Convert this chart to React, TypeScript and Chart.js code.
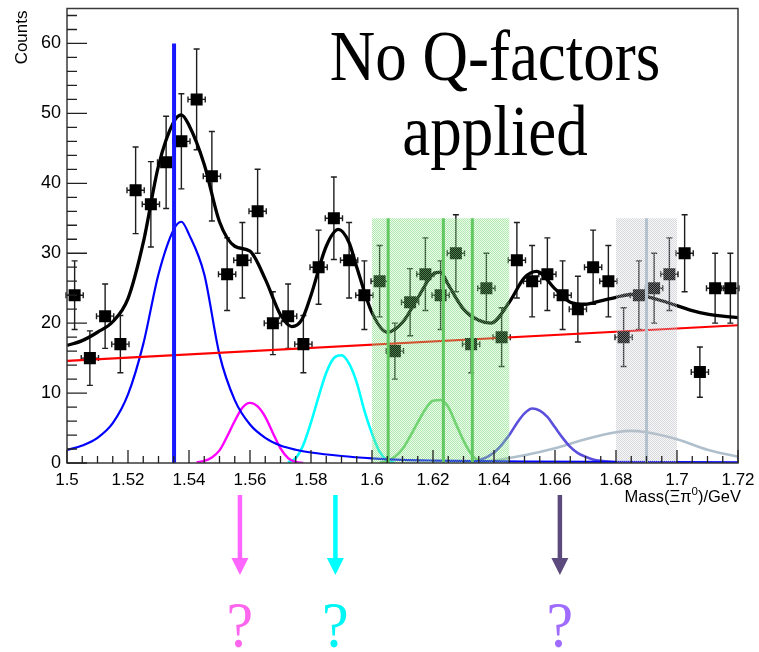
import React, { useEffect, useRef } from "react";
import { Chart, registerables } from "chart.js";

Chart.register(...registerables);

// ---------- data ----------
const binCenters = [
  1.5025, 1.5075, 1.5125, 1.5175, 1.5225, 1.5275, 1.5325, 1.5375, 1.5425, 1.5475,
  1.5525, 1.5575, 1.5625, 1.5675, 1.5725, 1.5775, 1.5825, 1.5875, 1.5925, 1.5975,
  1.6025, 1.6075, 1.6125, 1.6175, 1.6225, 1.6275, 1.6325, 1.6375, 1.6425, 1.6475,
  1.6525, 1.6575, 1.6625, 1.6675, 1.6725, 1.6775, 1.6825, 1.6875, 1.6925, 1.6975,
  1.7025, 1.7075, 1.7125, 1.7175,
];
const counts = [
  24, 15, 21, 17, 39, 37, 43, 46, 52, 41,
  27, 29, 36, 20, 21, 17, 28, 35, 29, 24,
  26, 16, 23, 27, 24, 30, 17, 25, 18, 29,
  26, 27, 24, 22, 28, 26, 18, 24, 25, 27,
  30, 13, 25, 25,
];
const countErrors = [
  4.9, 3.9, 4.6, 4.1, 6.2, 6.1, 6.6, 6.8, 7.2, 6.4,
  5.2, 5.4, 6.0, 4.5, 4.6, 4.1, 5.3, 5.9, 5.4, 4.9,
  5.1, 4.0, 4.8, 5.2, 4.9, 5.5, 4.1, 5.0, 4.2, 5.4,
  5.1, 5.2, 4.9, 4.7, 5.3, 5.1, 4.2, 4.9, 5.0, 5.2,
  5.5, 3.6, 5.0, 5.0,
];
const binHalfWidth = 0.0025;

const totalFitMass = [
  1.5, 1.505, 1.51, 1.515, 1.52, 1.525, 1.53, 1.535, 1.5375, 1.54, 1.545, 1.55, 1.555,
  1.56, 1.565, 1.57, 1.5737, 1.577, 1.58, 1.585, 1.589, 1.5925, 1.595, 1.6, 1.605, 1.61,
  1.615, 1.62, 1.6225, 1.625, 1.63, 1.635, 1.639, 1.645, 1.65, 1.654, 1.66, 1.665, 1.67,
  1.675, 1.68, 1.685, 1.69, 1.695, 1.7, 1.705, 1.71, 1.715, 1.72,
];
const totalFitValue = [
  16.8, 17.5, 18.7, 20.2, 23.5, 31.5, 42.5, 48.8, 49.8, 48.3, 42.7, 34.5, 31.0,
  30.3, 26.3, 21.2, 19.5, 20.5, 24.0, 31.0, 33.4, 31.5, 28.0, 21.5, 18.7, 20.1,
  23.6, 27.0, 27.3, 25.5, 22.0, 20.4, 20.0, 23.0, 26.5, 27.4, 24.9, 23.0, 22.7,
  23.2, 23.7, 24.1, 23.8, 23.2, 22.5, 21.8, 21.3, 21.0, 20.8,
];

const backgroundMass = [1.5, 1.72];
const backgroundValue = [14.6, 19.7];

const peak1530Mass = [
  1.5, 1.505, 1.51, 1.515, 1.52, 1.525, 1.53, 1.535, 1.5375, 1.54, 1.545, 1.55, 1.555,
  1.56, 1.565, 1.57, 1.575, 1.58, 1.59, 1.6, 1.61, 1.62, 1.65, 1.72,
];
const peak1530Value = [
  1.85, 2.5, 3.6, 5.7, 9.8, 17.0, 27.0, 33.4, 34.5, 32.7, 27.0, 15.5, 9.0,
  5.5, 3.6, 2.5, 1.9, 1.5, 1.0, 0.67, 0.45, 0.35, 0.2, 0.1,
];

const peak1560Mass = [
  1.5425, 1.545, 1.5475, 1.55, 1.5525, 1.555, 1.5575, 1.56, 1.5625, 1.565, 1.5675, 1.57,
  1.5725, 1.575, 1.5775,
];
const peak1560Value = [0.1, 0.3, 0.8, 1.8, 3.8, 6.0, 7.9, 8.6, 8.1, 6.6, 4.3, 2.1, 0.7, 0.15, 0];

const peak1590Mass = [
  1.5725, 1.575, 1.5775, 1.58, 1.5825, 1.585, 1.5875, 1.59, 1.5925, 1.595, 1.5975, 1.6,
  1.6025, 1.605, 1.6075,
];
const peak1590Value = [0.1, 0.7, 2.6, 5.8, 9.5, 12.9, 15.0, 15.4, 14.2, 11.5, 7.5, 4.2, 1.6, 0.4, 0];

const peak1620Mass = [
  1.6025, 1.605, 1.6075, 1.61, 1.6125, 1.615, 1.6175, 1.62, 1.6225, 1.625, 1.6275, 1.63,
  1.6325, 1.635, 1.6375,
];
const peak1620Value = [0, 0.3, 0.9, 2.0, 3.8, 5.8, 7.7, 8.9, 9.0, 8.0, 5.6, 3.2, 1.3, 0.3, 0];

const peak1655Mass = [
  1.6325, 1.635, 1.6375, 1.64, 1.6425, 1.645, 1.6475, 1.65, 1.6525, 1.655, 1.6575, 1.66,
  1.6625, 1.665, 1.6675, 1.67, 1.6725, 1.675, 1.68,
];
const peak1655Value = [0.1, 0.4, 0.8, 1.5, 2.6, 4.0, 5.7, 7.1, 7.8, 7.5, 6.6, 5.1, 3.6, 2.3, 1.4, 0.9, 0.5, 0.3, 0.1];

const peak1690Mass = [1.63, 1.64, 1.65, 1.66, 1.67, 1.68, 1.685, 1.69, 1.7, 1.71, 1.72];
const peak1690Value = [0.1, 0.35, 1.1, 2.1, 3.4, 4.4, 4.6, 4.4, 3.4, 1.9, 0.9];

const greenBand = [1.6, 1.645];
const greenLines = [1.6053, 1.6234, 1.6329];
const greyBand = [1.68, 1.7];
const greyLines = [1.69];
const bandTop = 35;
const blueLineMass = 1.5351;
const blueLineTop = 60;

const arrowMasses = [1.5567, 1.588, 1.6616];
const arrowColors = ["#ff66ff", "#00ffff", "#5b4a7b"];
const questionColors = ["#ff66ee", "#00f5f5", "#a06cff"];

const xMin = 1.5;
const xMax = 1.72;
const xStep = 0.02;
const xMinorStep = 0.005;
const yMin = 0;
const yMax = 65;
const yStep = 10;
const yMinorStep = 2;

const titleLines = ["No Q-factors", "applied"];

const toXY = (xs: number[], ys: number[]) => xs.map((x, i) => ({ x, y: ys[i] }));

const SANS = '"Liberation Sans", Arial, Helvetica, sans-serif';
const SERIF = '"Liberation Serif", "Times New Roman", serif';

function makePattern(ctx: CanvasRenderingContext2D, color: string) {
  const c = document.createElement("canvas");
  c.width = 2;
  c.height = 2;
  const p = c.getContext("2d")!;
  p.fillStyle = color;
  p.fillRect(0, 0, 1, 1);
  p.fillRect(1, 1, 1, 1);
  return ctx.createPattern(c, "repeat");
}

const overlayPlugin = {
  id: "rootStyle",
  beforeDatasetsDraw(chart: any) {
    const { ctx, scales } = chart;
    const xs = scales.x;
    const ys = scales.y;
    ctx.save();
    ctx.strokeStyle = "#1e1e1e";
    ctx.lineWidth = 1.4;
    binCenters.forEach((m, i) => {
      const px = xs.getPixelForValue(m);
      const py = ys.getPixelForValue(counts[i]);
      const pTop = ys.getPixelForValue(counts[i] + countErrors[i]);
      const pBot = ys.getPixelForValue(counts[i] - countErrors[i]);
      const pl = xs.getPixelForValue(m - binHalfWidth);
      const pr = xs.getPixelForValue(m + binHalfWidth);
      ctx.beginPath();
      ctx.moveTo(px, pTop);
      ctx.lineTo(px, pBot);
      ctx.moveTo(px - 3, pTop);
      ctx.lineTo(px + 3, pTop);
      ctx.moveTo(px - 3, pBot);
      ctx.lineTo(px + 3, pBot);
      ctx.moveTo(pl - 1, py);
      ctx.lineTo(pr + 1, py);
      ctx.moveTo(pl - 1, py - 3);
      ctx.lineTo(pl - 1, py + 3);
      ctx.moveTo(pr + 1, py - 3);
      ctx.lineTo(pr + 1, py + 3);
      ctx.stroke();
    });
    ctx.restore();
  },
  afterDatasetsDraw(chart: any) {
    const { ctx, scales, chartArea } = chart;
    const xs = scales.x;
    const ys = scales.y;
    const y0 = ys.getPixelForValue(0);
    ctx.save();

    // shaded bands (stippled, like ROOT fill styles)
    const yTop = ys.getPixelForValue(bandTop);
    const gl = xs.getPixelForValue(greenBand[0]);
    const gr = xs.getPixelForValue(greenBand[1]);
    ctx.fillStyle = "rgba(150,228,150,0.18)";
    ctx.fillRect(gl, yTop, gr - gl, y0 - yTop);
    ctx.fillStyle = makePattern(ctx, "rgba(120,220,120,0.5)") || "rgba(95,212,95,0.3)";
    ctx.fillRect(gl, yTop, gr - gl, y0 - yTop);
    const sl = xs.getPixelForValue(greyBand[0]);
    const sr = xs.getPixelForValue(greyBand[1]);
    ctx.fillStyle = "rgba(200,204,210,0.15)";
    ctx.fillRect(sl, yTop, sr - sl, y0 - yTop);
    ctx.fillStyle = makePattern(ctx, "rgba(185,190,198,0.5)") || "rgba(180,186,195,0.3)";
    ctx.fillRect(sl, yTop, sr - sl, y0 - yTop);

    ctx.lineWidth = 3;
    ctx.strokeStyle = "#62c862";
    greenLines.forEach((m) => {
      const px = xs.getPixelForValue(m);
      ctx.beginPath();
      ctx.moveTo(px, yTop);
      ctx.lineTo(px, y0);
      ctx.stroke();
    });
    ctx.strokeStyle = "#b4c2ce";
    greyLines.forEach((m) => {
      const px = xs.getPixelForValue(m);
      ctx.beginPath();
      ctx.moveTo(px, yTop);
      ctx.lineTo(px, y0);
      ctx.stroke();
    });

    // blue vertical marker
    const bx = xs.getPixelForValue(blueLineMass);
    ctx.strokeStyle = "#1818ff";
    ctx.lineWidth = 4;
    ctx.beginPath();
    ctx.moveTo(bx, ys.getPixelForValue(blueLineTop));
    ctx.lineTo(bx, y0);
    ctx.stroke();

    // frame
    ctx.strokeStyle = "#3a3a3a";
    ctx.lineWidth = 1.5;
    ctx.strokeRect(chartArea.left, chartArea.top, chartArea.right - chartArea.left, chartArea.bottom - chartArea.top);

    // ticks (inside the frame)
    ctx.strokeStyle = "#222";
    ctx.lineWidth = 1.3;
    ctx.beginPath();
    for (let v = yMin; v <= yMax + 1e-9; v += yMinorStep) {
      const py = ys.getPixelForValue(v);
      const major = Math.abs(v / yStep - Math.round(v / yStep)) < 1e-6;
      ctx.moveTo(chartArea.left, py);
      ctx.lineTo(chartArea.left + (major ? 20 : 10), py);
    }
    for (let k = 0; k <= Math.round((xMax - xMin) / xMinorStep); k++) {
      const v = xMin + k * xMinorStep;
      const px = xs.getPixelForValue(v);
      const major = k % Math.round(xStep / xMinorStep) === 0;
      ctx.moveTo(px, chartArea.bottom);
      ctx.lineTo(px, chartArea.bottom - (major ? 13 : 7));
    }
    ctx.stroke();

    // axis titles
    ctx.fillStyle = "#000";
    ctx.save();
    ctx.translate(27, chartArea.top + 2);
    ctx.rotate(-Math.PI / 2);
    ctx.font = `17px ${SANS}`;
    ctx.textAlign = "right";
    ctx.textBaseline = "alphabetic";
    ctx.fillText("Counts", 0, 0);
    ctx.restore();

    // x title: Mass(Ξπ⁰)/GeV, right-aligned
    const big = `16.5px ${SANS}`;
    const small = `11.5px ${SANS}`;
    const partA = "Mass(\u039E\u03C0";
    const partSup = "0";
    const partB = ")/GeV";
    ctx.font = big;
    const wA = ctx.measureText(partA).width;
    const wB = ctx.measureText(partB).width;
    ctx.font = small;
    const wS = ctx.measureText(partSup).width;
    const xEnd = chartArea.right + 3;
    const baseY = chartArea.bottom + 39;
    let cx = xEnd - (wA + wS + wB);
    ctx.textAlign = "left";
    ctx.font = big;
    ctx.fillText(partA, cx, baseY);
    cx += wA;
    ctx.font = small;
    ctx.fillText(partSup, cx, baseY - 7);
    cx += wS;
    ctx.font = big;
    ctx.fillText(partB, cx, baseY);

    // big annotation (slightly stretched vertically, as in the slide)
    ctx.font = `63px ${SERIF}`;
    ctx.textAlign = "center";
    const stretch = 1.14;
    ctx.save();
    ctx.translate(495, 80);
    ctx.scale(1, stretch);
    ctx.fillText(titleLines[0], 0, 0);
    ctx.restore();
    ctx.save();
    ctx.translate(495, 155);
    ctx.scale(1, stretch);
    ctx.fillText(titleLines[1], 0, 0);
    ctx.restore();

    // arrows and question marks
    arrowMasses.forEach((m, i) => {
      const px = xs.getPixelForValue(m);
      ctx.strokeStyle = arrowColors[i];
      ctx.fillStyle = arrowColors[i];
      ctx.lineWidth = 4.5;
      ctx.beginPath();
      ctx.moveTo(px, 495);
      ctx.lineTo(px, 560);
      ctx.stroke();
      ctx.beginPath();
      ctx.moveTo(px - 8.5, 558);
      ctx.lineTo(px + 8.5, 558);
      ctx.lineTo(px, 575);
      ctx.closePath();
      ctx.fill();
      ctx.fillStyle = questionColors[i];
      ctx.font = `60px ${SERIF}`;
      ctx.textAlign = "center";
      ctx.save();
      ctx.translate(px, 647);
      ctx.scale(1, 1.08);
      ctx.fillText("?", 0, 0);
      ctx.restore();
    });

    ctx.restore();
  },
};

export default function App() {
  const canvasRef = useRef<HTMLCanvasElement | null>(null);

  useEffect(() => {
    document.body.style.margin = "0";
    const canvas = canvasRef.current;
    if (!canvas) return;

    const curve = (xs: number[], ys: number[], color: string, width: number) => ({
      type: "line" as const,
      data: toXY(xs, ys),
      borderColor: color,
      borderWidth: width,
      pointRadius: 0,
      fill: false,
      cubicInterpolationMode: "monotone" as const,
    });

    const chart = new Chart(canvas, {
      type: "line",
      data: {
        datasets: [
          {
            type: "scatter",
            data: toXY(binCenters, counts),
            pointStyle: "rect",
            pointRadius: 8.5,
            backgroundColor: "#000",
            borderWidth: 0,
            showLine: false,
          } as any,
          curve(totalFitMass, totalFitValue, "#000000", 3.3),
          curve(backgroundMass, backgroundValue, "#ff0000", 2.2),
          curve(peak1530Mass, peak1530Value, "#0000ff", 2.2),
          curve(peak1560Mass, peak1560Value, "#ff00ff", 2.4),
          curve(peak1590Mass, peak1590Value, "#00ffff", 2.6),
          curve(peak1620Mass, peak1620Value, "#66cc66", 2.6),
          curve(peak1655Mass, peak1655Value, "#5a4fdc", 2.6),
          curve(peak1690Mass, peak1690Value, "#b0bfcc", 2.6),
        ],
      },
      options: {
        animation: false,
        responsive: false,
        layout: { padding: { left: 0, right: 21, top: 7, bottom: 159 } },
        plugins: { legend: { display: false }, tooltip: { enabled: false } },
        scales: {
          x: {
            type: "linear",
            min: xMin,
            max: xMax,
            grid: { display: false, drawTicks: false },
            border: { display: false },
            ticks: {
              stepSize: xStep,
              padding: 7,
              color: "#000",
              maxRotation: 0,
              autoSkip: false,
              font: { family: SANS, size: 17 },
              callback: (v: any) => String(Number(Number(v).toFixed(2))),
            },
            afterFit: (s: any) => {
              s.height = 30;
              s.paddingLeft = 0;
              s.paddingRight = 0;
            },
          },
          y: {
            type: "linear",
            min: yMin,
            max: yMax,
            grid: { display: false, drawTicks: false },
            border: { display: false },
            ticks: {
              stepSize: yStep,
              padding: 6,
              color: "#000",
              font: { family: SANS, size: 18 },
              callback: (v: any) => String(v),
            },
            afterBuildTicks: (s: any) => {
              s.ticks = s.ticks.filter((t: any) => Math.abs(t.value % yStep) < 1e-9);
            },
            afterFit: (s: any) => {
              s.width = 67;
              s.paddingTop = 0;
              s.paddingBottom = 0;
            },
          },
        },
      },
      plugins: [overlayPlugin],
    });

    return () => chart.destroy();
  }, []);

  return (
    <div style={{ width: 759, height: 652 }}>
      <canvas ref={canvasRef} width={759} height={652} style={{ display: "block" }} />
    </div>
  );
}
